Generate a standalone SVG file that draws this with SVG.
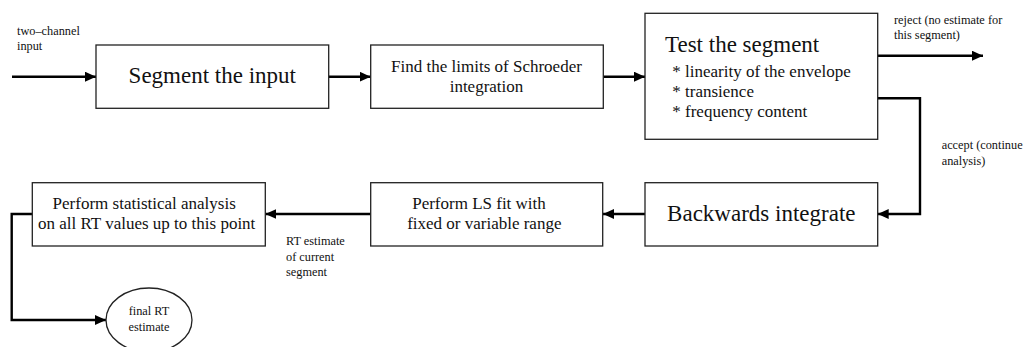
<svg xmlns="http://www.w3.org/2000/svg" width="1024" height="347" viewBox="0 0 1024 347">
<defs>
<style>
.box{fill:#fff;stroke:#222;stroke-width:1.3}
.conn{fill:none;stroke:#000;stroke-width:2.4}
text{font-family:'Liberation Serif','Times New Roman','DejaVu Serif',serif;fill:#111}
.big{font-size:23px}
.mid{font-size:17px}
.sm{font-size:12.3px}
.c{text-anchor:middle}
</style>
<marker id="ah" markerWidth="12" markerHeight="10" refX="11" refY="5" orient="auto" markerUnits="userSpaceOnUse">
<path d="M0,0 L11,5 L0,10 Z" fill="#000"/>
</marker>
</defs>
<rect width="1024" height="347" fill="#fff"/>
<g id="connectors">
<path class="conn" d="M12,76.7 H96" marker-end="url(#ah)"/>
<path class="conn" d="M329,76.7 H370.7" marker-end="url(#ah)"/>
<path class="conn" d="M603.3,76.7 H645" marker-end="url(#ah)"/>
<path class="conn" d="M877.7,55.7 H983" marker-end="url(#ah)"/>
<path class="conn" d="M877.7,98.3 H920 V214 H877.7" marker-end="url(#ah)"/>
<path class="conn" d="M645,214 H603" marker-end="url(#ah)"/>
<path class="conn" d="M370.7,214 H265.3" marker-end="url(#ah)"/>
<path class="conn" d="M32.3,214 H11.7 V320 H106" marker-end="url(#ah)"/>
<text class="sm" font-family="Liberation Serif, serif" x="17" y="35">two–channel</text>
<text class="sm" x="17" y="50">input</text>
<text class="sm" x="894" y="24">reject (no estimate for</text>
<text class="sm" x="894" y="39">this segment)</text>
<text class="sm" x="941.7" y="149">accept (continue</text>
<text class="sm" x="941.7" y="165">analysis)</text>
<text class="sm" x="286" y="245">RT estimate</text>
<text class="sm" x="286" y="260.5">of current</text>
<text class="sm" x="286" y="276">segment</text>
</g>
<g id="segment">
<rect class="box" x="96" y="45" width="232.7" height="63.3"/>
<text class="big c" x="212.3" y="82.5">Segment the input</text>
</g>
<g id="limits">
<rect class="box" x="370.7" y="45" width="232.6" height="63.3"/>
<text class="mid c" x="486.5" y="71.7">Find the limits of Schroeder</text>
<text class="mid c" x="486.5" y="91.7">integration</text>
</g>
<g id="test">
<rect class="box" x="645" y="13.3" width="232.7" height="126"/>
<text class="big" x="665" y="51.7">Test the segment</text>
<text class="mid" x="672.3" y="77.3">* linearity of the envelope</text>
<text class="mid" x="672.3" y="97">* transience</text>
<text class="mid" x="672.3" y="116.7">* frequency content</text>
</g>
<g id="backwards">
<rect class="box" x="645" y="182.7" width="232.7" height="63.3"/>
<text class="big c" x="761.3" y="220.5">Backwards integrate</text>
</g>
<g id="lsfit">
<rect class="box" x="370.7" y="182.7" width="232" height="63.3"/>
<text class="mid c" x="479" y="209">Perform LS fit with</text>
<text class="mid c" x="484.3" y="229.3">fixed or variable range</text>
</g>
<g id="stats">
<rect class="box" x="32.3" y="182.7" width="233" height="63.3"/>
<text class="mid c" x="144.2" y="208.5">Perform statistical analysis</text>
<text class="mid c" x="146.7" y="229.3">on all RT values up to this point</text>
</g>
<g id="final">
<ellipse class="box" cx="149" cy="320" rx="43" ry="32"/>
<text class="sm c" x="149" y="315">final RT</text>
<text class="sm c" x="149" y="330.7">estimate</text>
</g>
</svg>
